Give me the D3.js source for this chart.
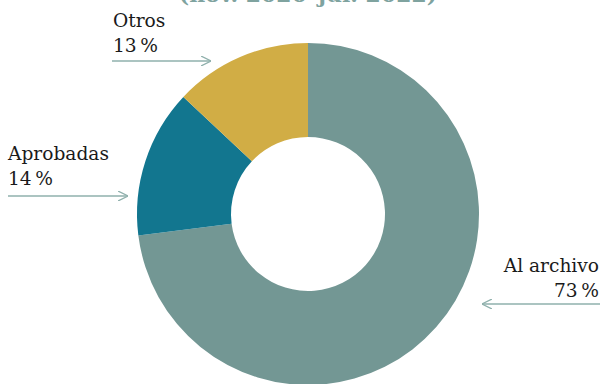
<!DOCTYPE html>
<html>
<head>
<meta charset="utf-8">
<script src="https://cdn.jsdelivr.net/npm/d3@7"></script>
<style>
  body { margin: 0; background: #fff; }
  svg { display: block; }
  .lbl { font-family: 'DejaVu Serif', serif; font-size: 18.6px; fill: #1a1a1a; }
</style>
</head>
<body>
<div id="chart"></div>
<script>
const chartWidth = 602;
const chartHeight = 384;

// data
const categories = ['Al archivo', 'Aprobadas', 'Otros'];
const shares = [73, 14, 13];
const colors = ['#739794', '#12768f', '#d1ad45'];
const titleText = '(nov. 2020\u2013jul. 2022)';

const cx = 308, cy = 214;
const outerR = 171, innerR = 77;

const svg = d3.select('#chart')
              .append('svg')
              .attr('width', chartWidth)
              .attr('height', chartHeight);

// title, mostly cut off by the top edge (as in the reference)
svg.append('text')
    .attr('x', cx)
    .attr('y', 2)
    .attr('text-anchor', 'middle')
    .style('font-family', "'DejaVu Serif', serif")
    .style('font-weight', 'bold')
    .style('font-size', '22px')
    .style('fill', '#7fa39f')
    .text(titleText);

const pie = d3.pie().sort(null).value(d => d);
const arc = d3.arc().innerRadius(innerR).outerRadius(outerR);

const g = svg.append('g')
              .attr('transform', 'translate(' + cx + ',' + cy + ')');

g.selectAll('path')
  .data(pie(shares))
  .enter().append('path')
    .attr('d', arc)
    .attr('fill', (d, i) => colors[i]);

// arrowheads
const defs = svg.append('defs');
defs.append('marker')
    .attr('id', 'head')
    .attr('viewBox', '0 0 10 10')
    .attr('refX', 10)
    .attr('refY', 5)
    .attr('markerWidth', 10)
    .attr('markerHeight', 10)
    .attr('markerUnits', 'userSpaceOnUse')
    .attr('orient', 'auto')
  .append('path')
    .attr('d', 'M0,0 L10,5 L0,10')
    .attr('fill', 'none')
    .attr('stroke', '#8fb0ac')
    .attr('stroke-width', 1.3);

// label positions (per category)
const labels = [
  {name: categories[0], x: 599, y: 272, anchor: 'end', ax1: 600, ax2: 482, ay: 304},
  {name: categories[1], x: 8, y: 160, anchor: 'start', ax1: 8, ax2: 128, ay: 196},
  {name: categories[2], x: 113, y: 27, anchor: 'start', ax1: 112, ax2: 211, ay: 61}
];

labels.forEach((l, i) => {
  const t = svg.append('text')
    .attr('class', 'lbl')
    .attr('x', l.x)
    .attr('y', l.y)
    .attr('text-anchor', l.anchor);
  t.append('tspan').attr('x', l.x).text(l.name);
  t.append('tspan').attr('x', l.x).attr('dy', 25).text(shares[i] + '\u2009%');

  svg.append('line')
    .attr('x1', l.ax1)
    .attr('x2', l.ax2)
    .attr('y1', l.ay)
    .attr('y2', l.ay)
    .attr('stroke', '#8fb0ac')
    .attr('stroke-width', 1.3)
    .attr('marker-end', 'url(#head)');
});
</script>
</body>
</html>
